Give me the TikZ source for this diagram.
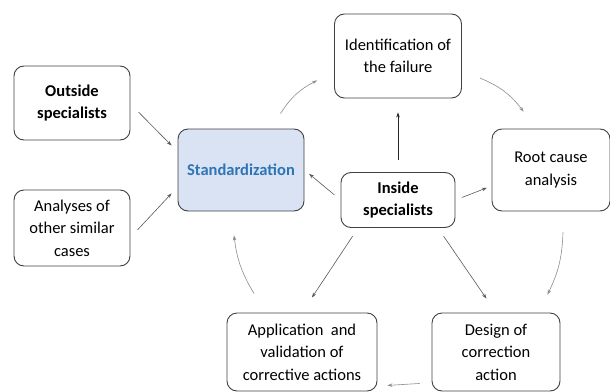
\documentclass[tikz,border=0pt]{standalone}
\usepackage{fontspec}
\setmainfont{Carlito}
\usetikzlibrary{arrows.meta}
\definecolor{stdfill}{RGB}{218,227,243}
\definecolor{stdtext}{RGB}{46,117,182}

\begin{document}
\begin{tikzpicture}
  [x=1pt,y=-1pt,>={Stealth[length=5pt,width=3.5pt]},
   stage/.style={draw=black!75,line width=0.9pt,rounded corners=10pt,align=center,
     font=\fontsize{16.5}{22.5}\selectfont,inner sep=2pt},
   cyc/.style={->,draw=black!45,line width=0.6pt},
   feed/.style={->,draw=black!65,line width=0.6pt}]
  \useasboundingbox (0,0) rectangle (610,391);

  \node[stage,minimum width=116,minimum height=74] (outside) at (72,103) {\textbf{Outside}\\\textbf{specialists}};
  \node[stage,minimum width=116,minimum height=76] (analyses) at (72,228) {Analyses of\\other similar\\cases};
  \node[stage,fill=stdfill,text=stdtext,minimum width=126,minimum height=82] (std) at (241,170) {\textbf{Standardization}};
  \node[stage,minimum width=127,minimum height=84] (ident) at (398,56) {Identification of\\the failure};
  \node[stage,minimum width=118,minimum height=82] (root) at (551,170) {Root cause\\analysis};
  \node[stage,minimum width=114,minimum height=55] (inside) at (398,200) {\textbf{Inside}\\\textbf{specialists}};
  \node[stage,minimum width=128,minimum height=78] (design) at (496,352) {Design of\\correction\\action};
  \node[stage,minimum width=150,minimum height=78] (app) at (302,352) {Application~ and\\validation of\\corrective actions};

  % cycle
  \draw[cyc] ([shift={(-24,-15)}]std.north east) to[bend left=15] ([shift={(-17,-18)}]ident.south west);
  \draw[cyc] ([shift={(18,22)}]ident.east) to[bend left=15] ([shift={(32,-17)}]root.north west);
  \draw[cyc] ([shift={(12,21)}]root.south) to[bend left=12] ([shift={(-13,-18)}]design.north east);
  \draw[cyc] ([shift={(-12,-8)}]design.south west) -- ([shift={(10,-6)}]app.south east);
  \draw[cyc] ([shift={(-48,-19)}]app.north) to[bend left=12] ([shift={(-7,24)}]std.south);

  % inputs
  \draw[feed] ([shift={(8,9)}]outside.east) -- ([shift={(-6,17)}]std.north west);
  \draw[feed] ([shift={(7,2)}]analyses.east) -- ([shift={(-6,-18)}]std.south west);
  \draw[->,black!85,line width=0.6pt,shorten <=12pt,shorten >=14pt] (inside.north) -- (ident.south);
  \foreach \from/\to/\a/\b in {inside.west/std.east/8/6,inside.215/app.north/10/18,inside.325/design.north/10/17}
    \draw[feed,shorten <=\a pt,shorten >=\b pt] (\from) -- (\to);
  \draw[feed,shorten <=7pt,shorten >=5pt] (inside.east) -- ([shift={(0,16)}]root.west);
\end{tikzpicture}
\end{document}
